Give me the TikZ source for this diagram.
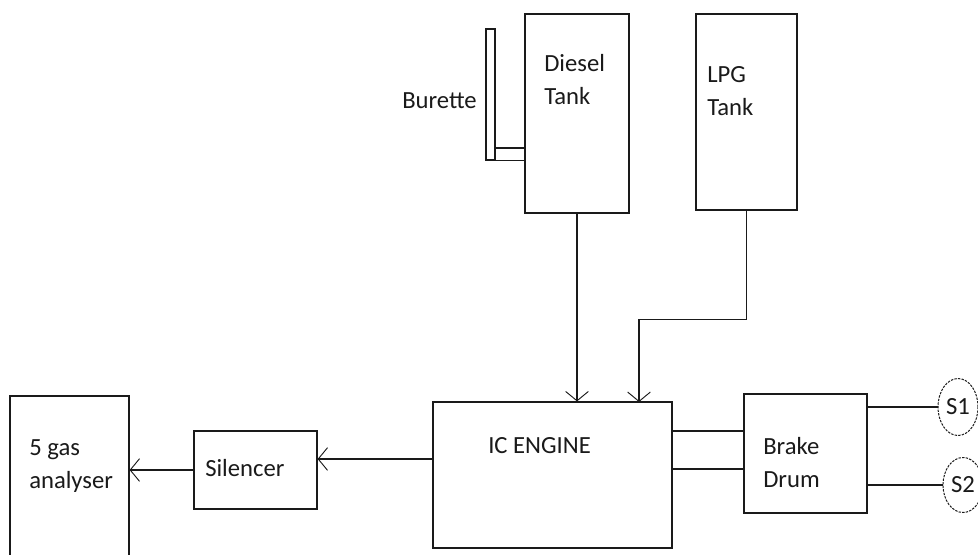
\documentclass[tikz,border=0pt]{standalone}
\usepackage{fontspec}
\setmainfont{Carlito}
\usepackage{tikz}
\usetikzlibrary{shapes.geometric, arrows.meta, positioning, calc}
\usepackage{xcolor}
\definecolor{inkblack}{HTML}{1A1A1A}
\tikzstyle{block} = [rectangle, draw=inkblack, line width=0.9pt, fill=white, inner sep=0pt]
\tikzstyle{arrow} = [-{Straight Barb[length=7pt, width=17pt, line width=0.7pt]}, line width=0.9pt, color=inkblack]

\begin{document}
\begin{tikzpicture}[
    x=0.75pt, y=-0.75pt,
    txt/.style={anchor=base west, inner sep=0pt, align=left, text=inkblack,
      font=\fontsize{18.5}{24.75}\selectfont},
    sensor/.style={ellipse, draw=inkblack, line width=0.75pt, dash pattern=on 1.8pt off 0.9pt,
      inner sep=0pt, minimum width=30pt, text=inkblack, font=\fontsize{18.5}{22}\selectfont},
    plain/.style={line width=0.9pt, color=inkblack}
  ]
    \useasboundingbox (0,0) rectangle (978,554);
    \clip (0,0) rectangle (978,554);

    % Fuel side: tanks and burette
    \node[block, minimum width=78pt, minimum height=149.25pt] (diesel) at (577,113.5) {};
    \node[block, minimum width=75.75pt, minimum height=147pt] (lpg) at (746.5,112) {};
    \node[block, minimum width=6.75pt, minimum height=98.25pt] (burette) at (490.5,94.5) {};
    % two-line labels sit on the baseline of their last line
    \node[txt] (dieseltxt) at (544,104) {Diesel\\Tank};
    \node[txt] (lpgtxt) at (707,115) {LPG\\Tank};
    \node[txt] (burettetxt) at (402,108) {Burette};

    \coordinate (pipetop) at (0,148);
    \draw[plain] (burette.east |- pipetop) -- (diesel.west |- pipetop);
    \draw[plain] (burette.south east) -- (diesel.west |- burette.south);

    % Engine row
    \node[block, minimum width=179.25pt, minimum height=109.5pt] (engine) at (552.5,475) {};
    \node[block, minimum width=92.25pt, minimum height=89.25pt] (drum) at (805.5,453.5) {};
    \node[block, minimum width=92.25pt, minimum height=58.5pt] (silencer) at (255.5,470) {};
    \node[block, minimum width=89.25pt, minimum height=153pt] (analyser) at (69.5,498) {};
    \node[txt] (enginetxt) at (488,453) {IC ENGINE};
    \node[txt] (drumtxt) at (763,487) {Brake\\Drum};
    \node[txt] (silencertxt) at (205,476) {Silencer};
    \node[txt] (analysertxt) at (29,488) {5 gas\\analyser};

    \node[sensor, minimum height=42.75pt] (s1) at (958,407) {S1};
    \node[sensor, minimum height=41.25pt] (s2) at (963,485) {S2};

    % Fuel lines into the engine
    \coordinate (lpgin) at (639,402);
    \draw[arrow] (diesel.south) -- (diesel.south |- engine.north);
    \draw[arrow] (lpg.south) -- ++(0,109) -| (lpgin);

    % Shafts from engine to brake drum
    \coordinate (shafttop) at (0,431);
    \coordinate (shaftbot) at (0,469);
    \draw[plain] (engine.east |- shafttop) -- (drum.west |- shafttop);
    \draw[plain] (engine.east |- shaftbot) -- (drum.west |- shaftbot);

    % Sensor leads
    \draw[plain] (drum.east |- s1.west) -- (s1.west);
    \draw[plain] (drum.east |- s2.west) -- (s2.west);

    % Exhaust path
    \coordinate (exhaust) at (0,459);
    \draw[arrow] (engine.west |- exhaust) -- (silencer.east |- exhaust);
    \draw[arrow] (silencer.west) -- (silencer.west -| analyser.east);
  \end{tikzpicture}
\end{document}
